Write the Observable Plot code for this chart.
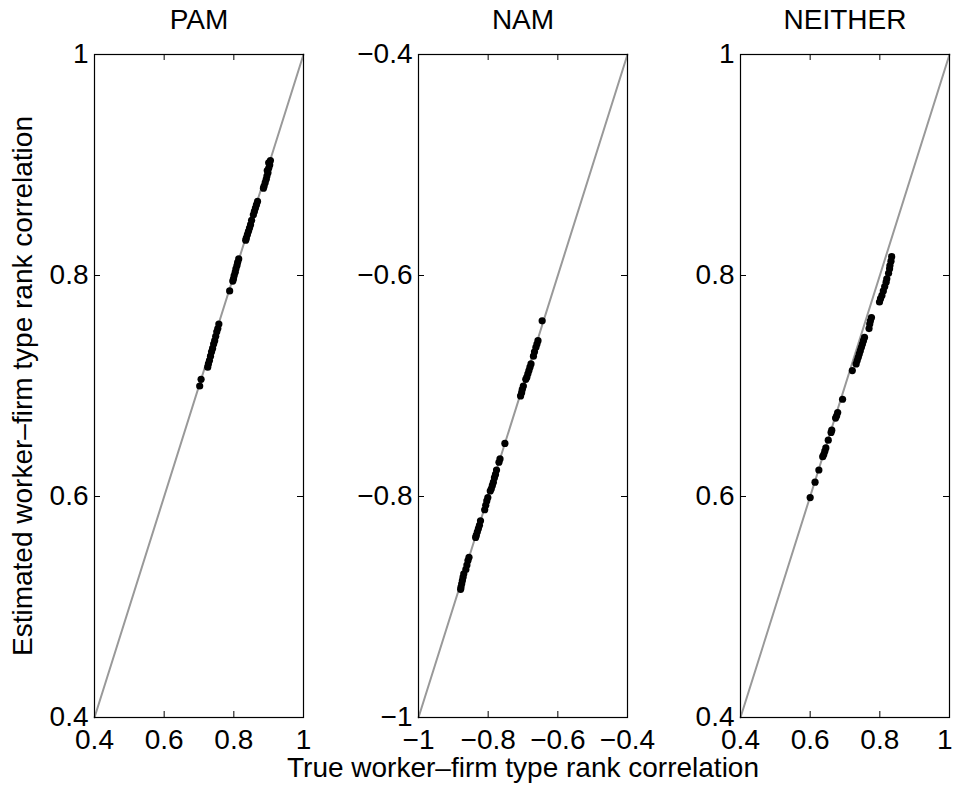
<!DOCTYPE html>
<html>
<head>
<meta charset="utf-8">
<script src="https://cdn.jsdelivr.net/npm/d3@7"></script>
<script src="https://cdn.jsdelivr.net/npm/@observablehq/plot@0.6"></script>
<style>
  html, body { margin: 0; padding: 0; background: #fff; }
  #chart { position: relative; width: 954px; height: 787px; font-family: "Liberation Sans", Arial, sans-serif; }
  #chart svg { position: absolute; left: 0; top: 0; }
</style>
</head>
<body>
<div id="chart"></div>
<script>
// ---- Data ----
const panelTitles = ["PAM", "NAM", "NEITHER"];
const xLabel = "True worker\u2013firm type rank correlation";
const yLabel = "Estimated worker\u2013firm type rank correlation";

const pamDomain = [0.4, 1];
const namDomain = [-1, -0.4];
const neitherDomain = [0.4, 1];

const pamTicks = [0.4, 0.6, 0.8, 1];
const namTicks = [-1, -0.8, -0.6, -0.4];
const neitherTicks = [0.4, 0.6, 0.8, 1];

const pamTrue = [0.905,0.903,0.900,0.898,0.895,0.893,0.890,0.887,0.885,0.900,0.896,
  0.868,0.865,0.862,0.859,0.856,
  0.851,0.848,0.845,0.842,0.839,0.836,0.834,
  0.814,0.811,0.809,0.806,0.804,0.801,0.799,0.797,
  0.788,
  0.757,0.754,0.751,0.748,0.745,0.742,0.739,0.736,0.733,0.730,0.727,0.725,
  0.706,0.702];
const pamEst = [0.904,0.900,0.897,0.893,0.890,0.887,0.884,0.881,0.879,0.902,0.895,
  0.867,0.864,0.861,0.858,0.855,
  0.850,0.846,0.843,0.840,0.837,0.834,0.832,
  0.815,0.812,0.809,0.806,0.803,0.800,0.797,0.795,
  0.786,
  0.756,0.752,0.749,0.745,0.741,0.738,0.734,0.731,0.727,0.723,0.720,0.717,
  0.706,0.700];

const namTrue = [-0.645,
  -0.657,-0.660,-0.663,-0.667,-0.670,
  -0.677,-0.680,-0.683,-0.686,-0.689,-0.692,
  -0.699,-0.702,-0.704,-0.707,
  -0.752,
  -0.766,-0.769,
  -0.776,-0.779,-0.782,-0.785,-0.788,-0.791,-0.794,
  -0.801,-0.804,-0.807,-0.810,
  -0.822,-0.825,-0.828,-0.831,-0.834,-0.836,
  -0.855,-0.858,-0.861,-0.864,
  -0.870,-0.872,-0.874,-0.876,-0.878,-0.879];
const namEst = [-0.641,
  -0.659,-0.662,-0.665,-0.669,-0.673,
  -0.680,-0.683,-0.686,-0.689,-0.692,-0.694,
  -0.700,-0.703,-0.706,-0.709,
  -0.752,
  -0.766,-0.769,
  -0.776,-0.780,-0.783,-0.787,-0.790,-0.793,-0.795,
  -0.801,-0.804,-0.808,-0.812,
  -0.822,-0.826,-0.829,-0.832,-0.835,-0.837,
  -0.855,-0.858,-0.862,-0.866,
  -0.870,-0.873,-0.876,-0.879,-0.882,-0.884];

const neitherTrue = [0.834,0.832,0.829,0.828,0.825,0.820,0.818,0.814,0.810,0.806,0.802,0.799,
  0.776,0.773,0.771,0.769,
  0.756,0.753,0.750,0.747,0.744,0.741,0.738,0.735,0.732,
  0.721,
  0.693,
  0.679,0.676,0.673,
  0.662,0.660,
  0.652,
  0.645,0.642,0.639,0.636,
  0.625,
  0.614,
  0.600];
const neitherEst = [0.817,0.813,0.809,0.806,0.802,0.797,0.794,0.790,0.786,0.782,0.779,0.776,
  0.762,0.759,0.756,0.752,
  0.744,0.741,0.738,0.735,0.732,0.729,0.726,0.723,0.720,
  0.714,
  0.688,
  0.676,0.673,0.671,
  0.660,0.658,
  0.651,
  0.644,0.641,0.638,0.636,
  0.624,
  0.613,
  0.599];

// ---- Layout ----
const W = 954, H = 787;
const frameLefts = [94, 418, 740];
const frameWidth = 209;
const mTop = 54, mBottom = 70;
const frameH = H - mTop - mBottom;
const FONT = 28;
const fmt = d3.format("~g");

const panels = [
  {title: panelTitles[0], domain: pamDomain, ticks: pamTicks, xs: pamTrue, ys: pamEst},
  {title: panelTitles[1], domain: namDomain, ticks: namTicks, xs: namTrue, ys: namEst},
  {title: panelTitles[2], domain: neitherDomain, ticks: neitherTicks, xs: neitherTrue, ys: neitherEst}
];

const chart = document.getElementById("chart");

panels.forEach((p, i) => {
  const pts = p.xs.map((x, j) => ({x, y: p.ys[j]}));
  const diag = p.domain.map(v => ({x: v, y: v}));
  const left = frameLefts[i];
  const lastPanel = i === panels.length - 1;
  // last panel: keep its right-most x tick label inside the page edge
  const xLabelTicks = lastPanel ? p.ticks.slice(0, -1) : p.ticks;
  const marks = [
    Plot.line(diag, {x: "x", y: "y", stroke: "#999999", strokeWidth: 2}),
    Plot.dot(pts, {x: "x", y: "y", r: 3.6, fill: "black", stroke: "none"}),
    Plot.frame({stroke: "#000", strokeWidth: 1.2}),
    // inward ticks on all four sides
    Plot.tickX(p.ticks, {x: d => d, insetTop: frameH - 6, stroke: "#000"}),
    Plot.tickX(p.ticks, {x: d => d, insetBottom: frameH - 6, stroke: "#000"}),
    Plot.tickY(p.ticks, {y: d => d, insetRight: frameWidth - 6, stroke: "#000"}),
    Plot.tickY(p.ticks, {y: d => d, insetLeft: frameWidth - 6, stroke: "#000"}),
    Plot.axisX(xLabelTicks, {tickSize: 0, tickPadding: 12, tickFormat: fmt, fontSize: FONT, fill: "#000", label: null}),
    Plot.axisY(p.ticks, {tickSize: 0, tickPadding: 6, tickFormat: fmt, fontSize: FONT, fill: "#000", label: null}),
    Plot.text([p.title], {text: d => d, frameAnchor: "top", dy: -34, lineAnchor: "middle", fontSize: FONT, fill: "#000"})
  ];
  if (lastPanel) {
    const lastTick = p.ticks.slice(-1);
    marks.push(Plot.text(lastTick, {x: d => d, text: d => fmt(d), frameAnchor: "bottom", dy: 12, dx: 3, lineAnchor: "top", textAnchor: "end", fontSize: FONT, fill: "#000"}));
  }
  if (i === 0) {
    marks.push(Plot.text([yLabel], {text: d => d, frameAnchor: "left", dx: -71, rotate: -90, lineAnchor: "middle", textAnchor: "middle", fontSize: FONT, fill: "#000"}));
  }
  if (i === 1) {
    marks.push(Plot.text([xLabel], {text: d => d, frameAnchor: "bottom", dy: 51, lineAnchor: "middle", fontSize: FONT, fill: "#000"}));
  }
  const svg = Plot.plot({
    width: W,
    height: H,
    marginLeft: left,
    marginRight: W - left - frameWidth,
    marginTop: mTop,
    marginBottom: mBottom,
    style: {fontFamily: '"Liberation Sans", Arial, sans-serif', fontSize: FONT + "px", background: "transparent", overflow: "visible"},
    x: {domain: p.domain, label: null, axis: null},
    y: {domain: p.domain, label: null, axis: null},
    marks
  });
  chart.appendChild(svg);
});
</script>
</body>
</html>
